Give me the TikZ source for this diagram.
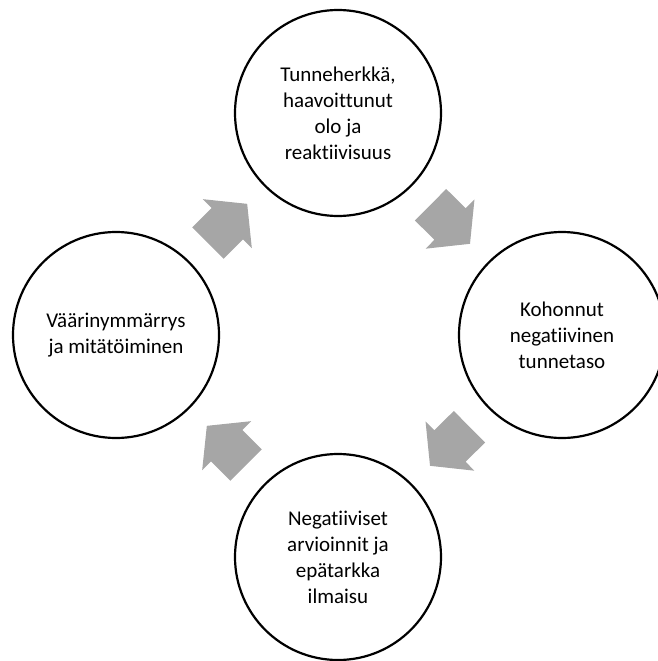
\documentclass[tikz,border=0pt]{standalone}
\usepackage{fontspec}
\setmainfont{Carlito}[Ligatures={NoCommon,NoRare}]
\usetikzlibrary{shapes.arrows}
\definecolor{arrowgray}{RGB}{166,166,166}

\begin{document}
\begin{tikzpicture}[x=1pt, y=-1pt,
  phase/.style={circle, draw, line width=2.2pt, minimum size=206pt, inner sep=0pt,
    align=center, font=\fontsize{21}{26}\selectfont},
  cyclearrow/.style={single arrow, fill=arrowgray, draw=none, inner sep=0pt,
    text height=22pt, text depth=22pt, minimum height=55.5pt,
    single arrow head extend=12.5pt, single arrow tip angle=102,
    sloped, allow upside down, anchor=tail, pos=0.243}]
  \clip (0,0) rectangle (658,661);
  \node[phase] (herkka) at (338,113) {Tunneherkkä,\\haavoittunut\\olo ja\\reaktiivisuus};
  \node[phase] (tunnetaso) at (562,335) {Kohonnut\\negatiivinen\\tunnetaso};
  \node[phase] (arviot) at (338,557) {Negatiiviset\\arvioinnit ja\\epätarkka\\ilmaisu};
  \node[phase] (vaarin) at (116,335) {Väärinymmärrys\\ja mitätöiminen};
  \path (vaarin) -- node[cyclearrow] {} (herkka)
        (herkka) -- node[cyclearrow] {} (tunnetaso)
        (tunnetaso) -- node[cyclearrow] {} (arviot)
        (arviot) -- node[cyclearrow] {} (vaarin);
\end{tikzpicture}
\end{document}
